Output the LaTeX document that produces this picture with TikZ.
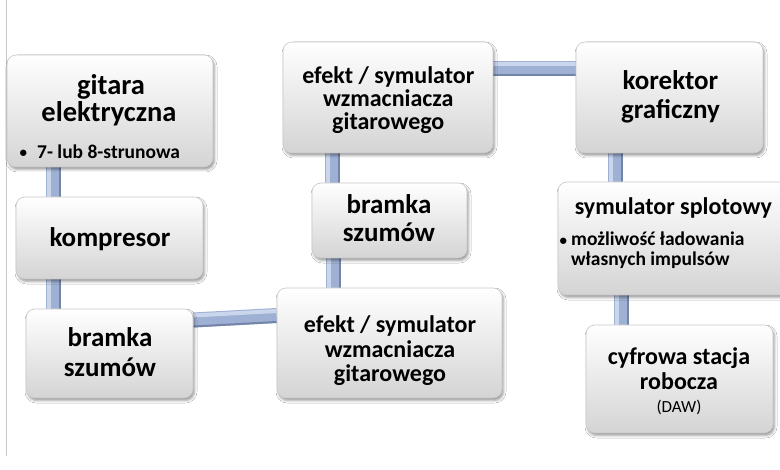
\documentclass[tikz,border=0pt]{standalone}
\usepackage{fontspec}
\setmainfont{Carlito}
\usetikzlibrary{shadows.blur,backgrounds}
\definecolor{barmid}{RGB}{158,177,212}
\definecolor{barlight}{RGB}{202,214,236}
\definecolor{bardark}{RGB}{116,132,168}
\definecolor{boxbot}{RGB}{212,212,212}
\definecolor{boxline}{RGB}{200,200,200}
\definecolor{edgeline}{RGB}{200,200,200}
\newcommand\smallbullet{\raisebox{0.5pt}{\fontsize{15}{15}\selectfont •}}
\tikzset{
  box/.style={draw=boxline, line width=0.6pt, rounded corners=9pt,
    top color=white, bottom color=boxbot, inner sep=0pt,
    blur shadow={shadow xshift=1.5pt, shadow yshift=-2.5pt, shadow blur radius=2.5pt}},
  big/.style={font=\fontsize{27}{27}\selectfont\bfseries, inner sep=0pt, anchor=base},
  bigger/.style={font=\fontsize{28.5}{28.5}\selectfont\bfseries, inner sep=0pt, anchor=base},
  mid/.style={font=\fontsize{24}{24}\selectfont\bfseries, inner sep=0pt, anchor=base},
  small/.style={font=\fontsize{19.5}{20}\selectfont\bfseries, inner sep=0pt, anchor=base west},
  daw/.style={font=\fontsize{17}{17}\selectfont, inner sep=0pt, anchor=base},
  barbase/.style={line width=15pt, barmid},
  barhi/.style={line width=4pt, barlight},
  barlo/.style={line width=2pt, bardark},
}
\newcommand\hconn[2]{%
  \draw[barbase] #1 -- #2;
  \draw[barhi, transform canvas={yshift=4.5pt}] #1 -- #2;
  \draw[barlo, transform canvas={yshift=-6.5pt}] #1 -- #2;
}
\newcommand\vconn[2]{%
  \draw[barbase] #1 -- #2;
  \draw[barhi, transform canvas={xshift=-4.5pt}] #1 -- #2;
  \draw[barlo, transform canvas={xshift=6.5pt}] #1 -- #2;
}
\begin{document}
\begin{tikzpicture}[x=1pt, y=-1pt]
\useasboundingbox (0,0) rectangle (780,470);

% boxes
\node[box, minimum width=206pt, minimum height=112pt] (g)  at (110,111)   {};
\node[box, minimum width=187pt, minimum height=82pt]  (k)  at (109.5,238) {};
\node[box, minimum width=167pt, minimum height=89pt]  (b1) at (109.5,353.5) {};
\node[box, minimum width=225pt, minimum height=110pt] (e2) at (389.5,343) {};
\node[box, minimum width=155pt, minimum height=75pt]  (b2) at (389.5,220.5) {};
\node[box, minimum width=210pt, minimum height=111pt] (e1) at (388,97.5)  {};
\node[box, minimum width=187pt, minimum height=111pt] (kg) at (669.5,97.5) {};
\node[box, minimum width=230pt, minimum height=113pt] (s)  at (673,238.5) {};
\node[box, minimum width=187pt, minimum height=108pt] (c)  at (679.5,379) {};

% connectors and page background
\begin{pgfonlayer}{background}
\fill[white] (0,0) rectangle (780,470);
\draw[edgeline, line width=1pt] (6,0) -- (6,456);
\vconn{(g.south -| 53,0)}{(k.north -| 53,0)}
\vconn{(k.south -| 53,0)}{(b1.north -| 53,0)}
\hconn{(b1.east |- 0,320)}{(e2.west |- 0,315.5)}
\vconn{(e2.north -| 333.5,0)}{(b2.south -| 333.5,0)}
\vconn{(b2.north -| 332.5,0)}{(e1.south -| 332.5,0)}
\hconn{(e1.east |- 0,68.5)}{(kg.west |- 0,68.5)}
\vconn{(kg.south -| 615.5,0)}{(s.north -| 615.5,0)}
\vconn{(s.south -| 621.5,0)}{(c.north -| 621.5,0)}
\end{pgfonlayer}

% texts
\node[bigger] (gt1) at (111,95) {gitara};
\node[bigger] (gt2) at (109,122) {elektryczna};
\node[small] (gt3) at (37,158.3) {\llap{\smallbullet\hspace{10pt}}7- lub 8-strunowa};

\node[big] (kt1) at (110,246.5) {kompresor};

\node[big] (b1t1) at (110,346.7) {bramka};
\node[big] (b1t2) at (110,376.7) {szumów};

\node[mid] (e2t1) at (390,332.7) {efekt / symulator};
\node[mid] (e2t2) at (390,357.2) {wzmacniacza};
\node[mid] (e2t3) at (390,381.7) {gitarowego};

\node[big] (b2t1) at (389,213.3) {bramka};
\node[big] (b2t2) at (389,241.7) {szumów};

\node[mid] (e1t1) at (388.3,83.3) {efekt / symulator};
\node[mid] (e1t2) at (388.3,106.5) {wzmacniacza};
\node[mid] (e1t3) at (388.3,130) {gitarowego};

\node[big] (kgt1) at (670.5,90) {korektor};
\node[big] (kgt2) at (670.5,118.3) {graficzny};

\node[mid] (st1) at (673.3,215) {symulator splotowy};
\node[small] (st2) at (571,246) {\llap{\smallbullet\hspace{4pt}}możliwość ładowania};
\node[small] (st3) at (571,266) {własnych impulsów};

\node[mid] (ct1) at (679,365) {cyfrowa stacja};
\node[mid] (ct2) at (679,389.3) {robocza};
\node[daw] (ct3) at (679,412.7) {(DAW)};
\end{tikzpicture}
\end{document}
